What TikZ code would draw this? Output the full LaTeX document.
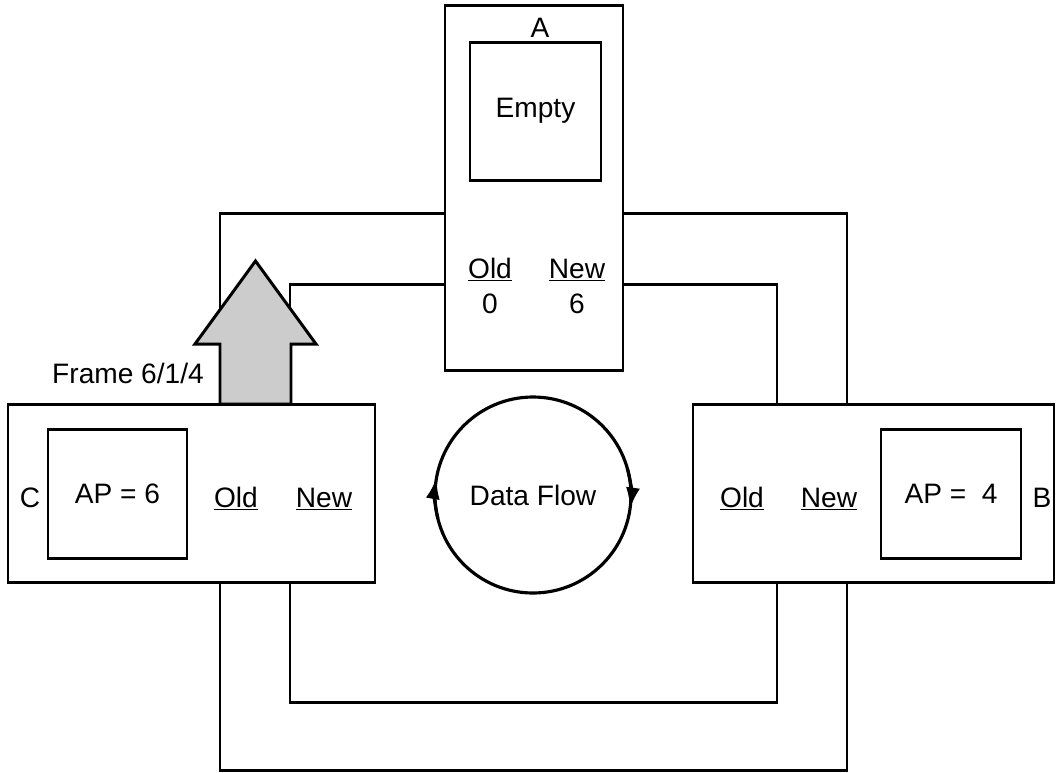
\documentclass[tikz,border=0pt]{standalone}
\usepackage{fontspec}
\setmainfont{Liberation Sans}
\usetikzlibrary{arrows.meta}

\def\u{0.02cm}

\begin{document}
\begin{tikzpicture}[
  x=\u, y=-\u,
  font=\fontsize{16}{19}\selectfont, >=Latex,
  wire/.style={line width=1.7pt},
  unitbox/.style={draw, line width=1.7pt, fill=white, outer sep=0pt, inner sep=0pt},
  apbox/.style={draw, line width=1.7pt, fill=white, outer sep=0pt, inner sep=0pt},
  lbl/.style={inner sep=0pt, anchor=base},
  framearrow/.style={draw, line width=1.7pt, fill=black!20, line join=miter},
  flowtip/.style={line width=1.8pt, -{Latex[length=12pt,width=8pt]}},
]
\useasboundingbox (0,0) rectangle (1056,772);

% --- the two rings that link the units ---
\def\ringtop{213}
\def\ringbot{770}
\draw[wire] (220,\ringtop) rectangle (847,\ringbot);
\draw[wire] (290,284) rectangle (777,702);

% --- unit A (top) ---
\node[unitbox, minimum width=178*\u, minimum height=365*\u] (boxA) at (534,187.5) {};
\node[lbl] (labA) at (540,37) {A};
\node[apbox, minimum width=131*\u, minimum height=138*\u] (sqA) at (535.5,111) {Empty};
\node[lbl] (oldA) at (490,278) {\underline{Old}};
\node[lbl] (newA) at (577,278) {\underline{New}};
\node[lbl] (oldvA) at (490,313) {0};
\node[lbl] (newvA) at (577,313) {6};

% --- unit C (left) ---
\node[unitbox, minimum width=367*\u, minimum height=178*\u] (boxC) at (191.5,493) {};
\node[apbox, minimum width=139*\u, minimum height=129*\u] (sqC) at (117.5,493.5) {AP = 6};
\node[lbl] (labC) at (30,507) {C};
\node[lbl] (oldC) at (236,507) {\underline{Old}};
\node[lbl] (newC) at (324,507) {\underline{New}};

% --- unit B (right) ---
\node[unitbox, minimum width=361*\u, minimum height=178*\u] (boxB) at (873.5,493) {};
\node[apbox, minimum width=140*\u, minimum height=129*\u] (sqB) at (951,493.5) {AP =\ \ 4};
\node[lbl] (labB) at (1042,507) {B};
\node[lbl] (oldB) at (742,507) {\underline{Old}};
\node[lbl] (newB) at (829,507) {\underline{New}};

% --- frame being passed from C to A ---
\draw[framearrow] (220,404) -- (220,344) -- (195,344) -- (255.5,261)
  -- (316,344) -- (291,344) -- (291,404) -- cycle;
\node[lbl] (frameLbl) at (128,383) {Frame 6/1/4};

% --- data flow circle ---
\node[draw, circle, line width=1.8pt, minimum size=196*\u, inner sep=0pt] (flow) at (533,495) {Data Flow};
\draw[flowtip] (flow.center) ++(166:98) arc (166:190:98);
\draw[flowtip] (flow.center) ++(-16:98) arc (-16:8:98);

\end{tikzpicture}
\end{document}
